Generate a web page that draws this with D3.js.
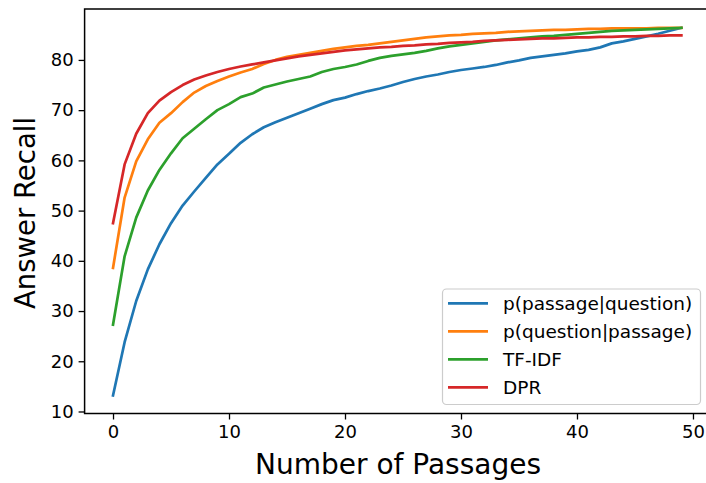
<!DOCTYPE html>
<html>
<head>
<meta charset="utf-8">
<script src="https://cdn.jsdelivr.net/npm/d3@7/dist/d3.min.js"></script>
<style>
  html, body { margin: 0; padding: 0; background: #fff; }
  svg { display: block; font-family: "DejaVu Sans", sans-serif; }
</style>
</head>
<body>
<svg id="chart" width="706" height="483"></svg>
<script>
const passages = d3.range(0, 50);
const seriesNames = ["p(passage|question)", "p(question|passage)", "TF-IDF", "DPR"];
const seriesColors = ["#1f77b4", "#ff7f0e", "#2ca02c", "#d62728"];
const pPassageGivenQuestion = [13.2, 23.8, 32.0, 38.3, 43.3, 47.5, 51.0, 53.8, 56.5, 59.2,
  61.3, 63.5, 65.2, 66.6, 67.6, 68.5, 69.4, 70.3, 71.2, 72.0,
  72.5, 73.2, 73.8, 74.3, 74.9, 75.6, 76.2, 76.7, 77.1, 77.6,
  78.0, 78.3, 78.6, 79.0, 79.5, 79.9, 80.4, 80.7, 81.0, 81.3,
  81.7, 82.0, 82.5, 83.3, 83.7, 84.2, 84.7, 85.2, 85.8, 86.4];
const pQuestionGivenPassage = [38.6, 52.6, 59.8, 64.2, 67.5, 69.4, 71.6, 73.5, 74.8, 75.8,
  76.7, 77.5, 78.2, 79.2, 80.0, 80.6, 81.0, 81.4, 81.8, 82.2,
  82.5, 82.8, 83.0, 83.3, 83.6, 83.9, 84.2, 84.5, 84.7, 84.9,
  85.0, 85.2, 85.3, 85.4, 85.6, 85.7, 85.8, 85.9, 86.0, 86.0,
  86.1, 86.2, 86.2, 86.3, 86.3, 86.3, 86.3, 86.4, 86.4, 86.4];
const tfidf = [27.3, 40.9, 48.6, 54.0, 58.1, 61.4, 64.4, 66.3, 68.2, 70.0,
  71.2, 72.6, 73.3, 74.5, 75.1, 75.7, 76.2, 76.7, 77.6, 78.2,
  78.6, 79.1, 79.8, 80.4, 80.8, 81.1, 81.4, 81.8, 82.3, 82.7,
  83.0, 83.3, 83.6, 83.9, 84.1, 84.3, 84.5, 84.7, 84.8, 85.0,
  85.2, 85.4, 85.6, 85.8, 85.9, 86.0, 86.1, 86.2, 86.3, 86.4];
const dpr = [47.5, 59.2, 65.3, 69.4, 71.9, 73.6, 75.0, 76.1, 76.9, 77.6,
  78.2, 78.7, 79.1, 79.5, 79.9, 80.3, 80.7, 81.0, 81.3, 81.6,
  81.9, 82.1, 82.3, 82.5, 82.6, 82.8, 82.9, 83.1, 83.2, 83.4,
  83.5, 83.6, 83.8, 83.9, 84.0, 84.1, 84.2, 84.3, 84.3, 84.4,
  84.5, 84.5, 84.6, 84.6, 84.7, 84.7, 84.8, 84.8, 84.9, 84.9];
const xTicks = [0, 10, 20, 30, 40, 50];
const yTicks = [10, 20, 30, 40, 50, 60, 70, 80];
const xLabel = "Number of Passages";
const yLabel = "Answer Recall";

const allSeries = [pPassageGivenQuestion, pQuestionGivenPassage, tfidf, dpr];

(function () {
const svg = d3.select("#chart");
const pL = 84.6, pR = 709.8, pT = 9, pB = 413.5;

const x = d3.scaleLinear().domain([-2.45, 51.45]).range([pL, pR]);
const y = d3.scaleLinear().domain([9.6, 90.14]).range([pB, pT]);

// lines
const line = d3.line().x((d, i) => x(passages[i])).y(d => y(d));
allSeries.forEach((s, k) => {
  svg.append("path")
    .datum(s)
    .attr("d", line)
    .attr("fill", "none")
    .attr("stroke", seriesColors[k])
    .attr("stroke-width", 2.7)
    .attr("stroke-linejoin", "round")
    .attr("stroke-linecap", "square");
});

// axes
const xAxis = d3.axisBottom(x).tickValues(xTicks).tickSize(6).tickPadding(5).tickFormat(d3.format("d"));
const yAxis = d3.axisLeft(y).tickValues(yTicks).tickSize(6).tickPadding(5).tickFormat(d3.format("d"));

const gx = svg.append("g").attr("transform", `translate(0,${pB})`).call(xAxis);
const gy = svg.append("g").attr("transform", `translate(${pL},0)`).call(yAxis);
[gx, gy].forEach(g => {
  g.select(".domain").remove();
  g.selectAll(".tick line").attr("stroke", "#000").attr("stroke-width", 1.3);
  g.selectAll(".tick text").attr("fill", "#000").attr("font-size", 18)
    .attr("font-family", "DejaVu Sans, sans-serif");
});
gx.selectAll(".tick text").attr("dy", "0.75em");

// spines
svg.append("rect")
  .attr("x", pL).attr("y", pT)
  .attr("width", pR - pL).attr("height", pB - pT)
  .attr("fill", "none").attr("stroke", "#000").attr("stroke-width", 1.5);

// labels
svg.append("text")
  .attr("x", 398).attr("y", 474)
  .attr("text-anchor", "middle").attr("font-size", 28).attr("fill", "#000")
  .text(xLabel);
svg.append("text")
  .attr("transform", `translate(35,213) rotate(-90)`)
  .attr("text-anchor", "middle").attr("font-size", 27.5).attr("fill", "#000")
  .text(yLabel);

// legend
const lg = svg.append("g");
lg.append("rect")
  .attr("x", 442.5).attr("y", 289).attr("width", 258).attr("height", 115.5)
  .attr("rx", 4).attr("ry", 4)
  .attr("fill", "#fff").attr("fill-opacity", 0.8)
  .attr("stroke", "#cccccc").attr("stroke-width", 1.2);
seriesNames.forEach((name, k) => {
  const cy = 303.3 + k * 28;
  lg.append("line")
    .attr("x1", 448).attr("x2", 488).attr("y1", cy).attr("y2", cy)
    .attr("stroke", seriesColors[k]).attr("stroke-width", 2.7);
  lg.append("text")
    .attr("x", 503).attr("y", cy).attr("dy", "0.35em")
    .attr("font-size", 18.5).attr("fill", "#000")
    .text(name);
});
})();
</script>
</body>
</html>
